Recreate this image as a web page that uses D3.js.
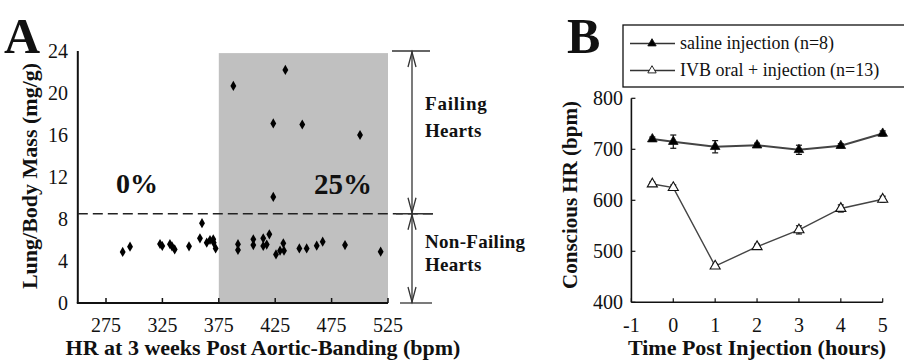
<!DOCTYPE html>
<html><head><meta charset="utf-8">
<script src="https://cdn.jsdelivr.net/npm/d3@7"></script>
<style>body{margin:0;background:#fff}svg{display:block}</style>
</head><body><svg id="c" width="904" height="362" font-family="'Liberation Serif', 'DejaVu Serif', serif"></svg>
<script>
// Panel A data: HR at 3 weeks (bpm) vs Lung/Body mass (mg/g)
const hrA = [289.8,296.3,322.9,324.9,331.7,333.5,335.9,348.6,358.3,360.1,364.3,367.2,370.1,370.5,372.2,387.9,392,392,405.6,405.6,414.4,414.4,417.5,419.8,423.3,423.3,425.7,429.3,432.2,432.8,434,446.4,452.9,449,461.8,467.1,486.9,500.2,518.5];
const lbmA = [4.86,5.36,5.62,5.43,5.6,5.4,5.1,5.4,6.16,7.6,5.75,6.0,6.06,5.75,5.2,20.67,5.6,5.05,6.06,5.52,6.16,5.43,5.56,6.54,10.1,17.1,4.63,4.98,5.68,4.98,22.2,5.2,5.2,17.0,5.46,5.84,5.52,16.0,4.89];
const xTicksA = [275,325,375,425,475,525];
const yTicksA = [0,4,8,12,16,20,24];
const threshold = 8.5;

// Panel B data
const timeB = [-0.5,0,1,2,3,4,5];
const salineHR = [720,715,705,708,699,707,731];
const salineErr = [4,13,12,4,9,4,5];
const ivbHR = [632,625,471,509,542,584,602];
const ivbErr = [4,5,4,5,8,7,6];
const xTicksB = [-1,0,1,2,3,4,5];
const yTicksB = [400,500,600,700,800];
const legendLabels = ["saline injection (n=8)","IVB oral + injection (n=13)"];

const svg = d3.select("#c");
const INK = "#111";

// ---------- Panel A ----------
const xA = d3.scaleLinear().domain([250,525]).range([77.8,388]);
const yA = d3.scaleLinear().domain([0,24]).range([303,51]);
const gA = svg.append("g").attr("fill",INK);

gA.append("rect").attr("x",xA(375)).attr("y",yA(23.8)).attr("width",xA(525)-xA(375)).attr("height",yA(0)-yA(23.8)).attr("fill","#c0c0c0");

gA.append("line").attr("x1",xA(250)).attr("x2",xA(250)).attr("y1",yA(24)).attr("y2",yA(0)).attr("stroke",INK).attr("stroke-width",2);
gA.append("line").attr("x1",xA(250)-1).attr("x2",xA(525)).attr("y1",yA(0)).attr("y2",yA(0)).attr("stroke",INK).attr("stroke-width",2);
gA.selectAll(".xt").data(xTicksA).join("line").attr("x1",d=>xA(d)).attr("x2",d=>xA(d)).attr("y1",yA(0)).attr("y2",yA(0)-5).attr("stroke",INK).attr("stroke-width",1.5);
gA.selectAll(".xl").data(xTicksA).join("text").attr("x",d=>xA(d)).attr("y",332).attr("text-anchor","middle").attr("font-size",20).text(d=>d);
gA.selectAll(".yl").data(yTicksA).join("text").attr("x",68).attr("y",d=>yA(d)).attr("dy","0.35em").attr("text-anchor","end").attr("font-size",20).text(d=>d);

gA.append("line").attr("x1",xA(250)).attr("x2",433).attr("y1",yA(threshold)).attr("y2",yA(threshold)).attr("stroke","#222").attr("stroke-width",1.6).attr("stroke-dasharray","10,5");

gA.selectAll(".pt").data(hrA.map((h,i)=>[h,lbmA[i]])).join("path")
  .attr("d",d3.symbol(d3.symbolDiamond,30)).attr("transform",d=>`translate(${xA(d[0])},${yA(d[1])})`).attr("fill","#000");

const ax = 412;
const br = gA.append("g").attr("stroke","#333").attr("fill","none").attr("stroke-width",1.3);
br.append("line").attr("x1",392).attr("x2",430).attr("y1",yA(24)).attr("y2",yA(24));
br.append("line").attr("x1",400).attr("x2",432).attr("y1",yA(0)).attr("y2",yA(0));
br.append("line").attr("x1",396).attr("x2",433).attr("y1",yA(threshold)).attr("y2",yA(threshold)).attr("stroke-width",1.6);
br.append("line").attr("x1",ax).attr("x2",ax).attr("y1",yA(24)).attr("y2",yA(0));
function vhead(tipY, dir){
  br.append("path").attr("d",`M${ax-4},${tipY-dir*15}L${ax},${tipY}L${ax+4},${tipY-dir*15}`);
}
vhead(yA(24)+1,-1); vhead(yA(threshold)-1,1); vhead(yA(threshold)+1,-1); vhead(yA(0)-1,1);

const lab = (x,y,s,t)=>gA.append("text").attr("x",x).attr("y",y).attr("font-size",s).attr("font-weight","bold").text(t);
lab(425,110,19,"Failing").attr("letter-spacing",0.8);
lab(425,137,19,"Hearts").attr("letter-spacing",0.3);
lab(425,248,19,"Non-Failing").attr("letter-spacing",0.3);
lab(425,271,19,"Hearts").attr("letter-spacing",0.3);
lab(116,193,28,"0%");
lab(314,194,29,"25%");
lab(4,53,50,"A");
gA.append("text").attr("transform","translate(37,176) rotate(-90)").attr("text-anchor","middle").attr("font-size",22).attr("font-weight","bold").text("Lung/Body Mass (mg/g)");
gA.append("text").attr("x",263).attr("y",355).attr("text-anchor","middle").attr("font-size",22).attr("font-weight","bold").text("HR at 3 weeks Post Aortic-Banding (bpm)");

// ---------- Panel B ----------
const xB = d3.scaleLinear().domain([-1,5]).range([631.4,882.7]);
const yB = d3.scaleLinear().domain([400,800]).range([302.3,98.3]);
const gB = svg.append("g").attr("fill",INK);

gB.append("line").attr("x1",xB(-1)).attr("x2",xB(-1)).attr("y1",yB(800)).attr("y2",yB(400)).attr("stroke",INK).attr("stroke-width",1.6);
gB.append("line").attr("x1",xB(-1)).attr("x2",xB(5)).attr("y1",yB(400)).attr("y2",yB(400)).attr("stroke",INK).attr("stroke-width",1.6);
gB.selectAll(".xt").data(xTicksB).join("line").attr("x1",d=>xB(d)).attr("x2",d=>xB(d)).attr("y1",yB(400)).attr("y2",yB(400)-4).attr("stroke",INK).attr("stroke-width",1.2);
gB.selectAll(".yt").data(yTicksB).join("line").attr("x1",xB(-1)).attr("x2",xB(-1)+4).attr("y1",d=>yB(d)).attr("y2",d=>yB(d)).attr("stroke",INK).attr("stroke-width",1.2);
gB.selectAll(".xl").data(xTicksB).join("text").attr("x",d=>xB(d)).attr("y",332).attr("text-anchor","middle").attr("font-size",20).text(d=>d);
gB.selectAll(".yl").data(yTicksB).join("text").attr("x",623).attr("y",d=>yB(d)).attr("dy","0.35em").attr("text-anchor","end").attr("font-size",20).text(d=>d);

function series(vals, errs, filled, lineCol, lw){
  const pts = timeB.map((t,i)=>({t,v:vals[i],e:errs[i]}));
  gB.append("path").datum(pts).attr("d",d3.line().x(d=>xB(d.t)).y(d=>yB(d.v))).attr("fill","none").attr("stroke",lineCol).attr("stroke-width",lw);
  const eb = gB.append("g").attr("stroke",INK).attr("stroke-width",1.2);
  pts.forEach(d=>{
    eb.append("line").attr("x1",xB(d.t)).attr("x2",xB(d.t)).attr("y1",yB(d.v+d.e)).attr("y2",yB(d.v-d.e));
    eb.append("line").attr("x1",xB(d.t)-3).attr("x2",xB(d.t)+3).attr("y1",yB(d.v+d.e)).attr("y2",yB(d.v+d.e));
    eb.append("line").attr("x1",xB(d.t)-3).attr("x2",xB(d.t)+3).attr("y1",yB(d.v-d.e)).attr("y2",yB(d.v-d.e));
  });
  gB.selectAll(null).data(pts).join("path").attr("d",d3.symbol(d3.symbolTriangle,filled?40:44))
    .attr("transform",d=>`translate(${xB(d.t)},${yB(d.v)})`)
    .attr("fill",filled?"#000":"#fff").attr("stroke",INK).attr("stroke-width",filled?0.8:1.1);
}
series(salineHR, salineErr, true, "#444", 2);
series(ivbHR, ivbErr, false, "#444", 1.4);

gB.append("rect").attr("x",623).attr("y",25).attr("width",300).attr("height",62).attr("fill","#fff").attr("stroke",INK).attr("stroke-width",1.3);
legendLabels.forEach((l,i)=>{
  const ly = 43.5 + i*27;
  gB.append("line").attr("x1",630).attr("x2",675).attr("y1",ly).attr("y2",ly).attr("stroke","#333").attr("stroke-width",1.3);
  gB.append("path").attr("d",d3.symbol(d3.symbolTriangle,30)).attr("transform",`translate(652,${ly})`)
    .attr("fill",i===0?"#000":"#fff").attr("stroke",INK).attr("stroke-width",0.9);
  gB.append("text").attr("x",680).attr("y",ly).attr("dy","0.33em").attr("font-size",18).text(l);
});

gB.append("text").attr("x",567).attr("y",53).attr("font-size",50).attr("font-weight","bold").text("B");
gB.append("text").attr("transform","translate(577,195) rotate(-90)").attr("text-anchor","middle").attr("font-size",21).attr("font-weight","bold").text("Conscious HR (bpm)");
gB.append("text").attr("x",757).attr("y",355).attr("text-anchor","middle").attr("font-size",22).attr("font-weight","bold").text("Time Post Injection (hours)");
</script></body></html>
